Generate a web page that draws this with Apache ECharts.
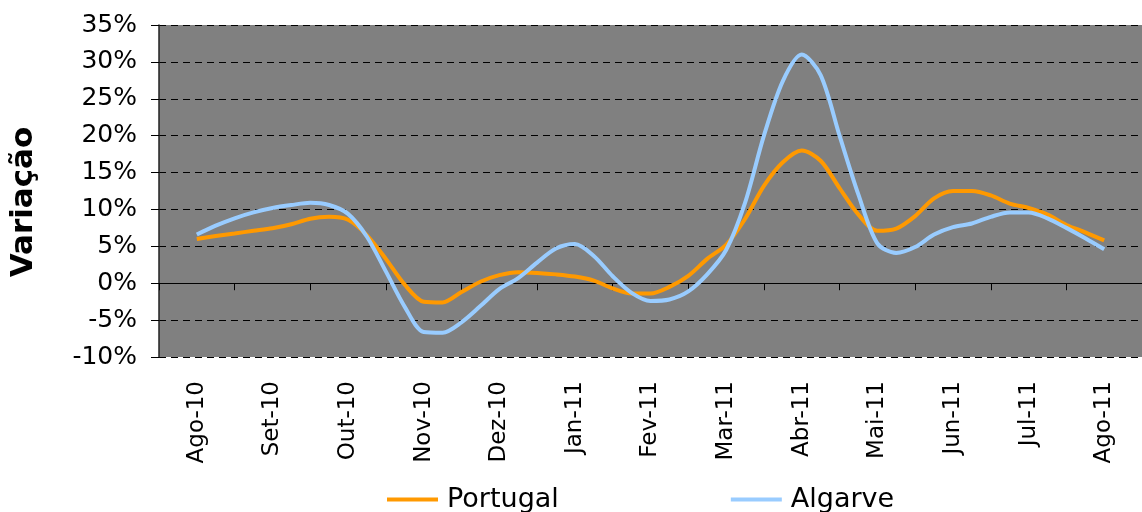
<!DOCTYPE html>
<html lang="pt">
<head>
  <meta charset="UTF-8">
  <title>Variação</title>
  <script src="https://cdn.jsdelivr.net/npm/echarts@6/dist/echarts.min.js"></script>
  <style>
    html, body { margin: 0; padding: 0; background: #fff; }
    #grafico { width: 1142px; height: 512px; }
  </style>
</head>
<body>
<div id="grafico"></div>
<script type="text/javascript">
  // meses do eixo (um por categoria)
  var meses = ['Ago-10', 'Set-10', 'Out-10', 'Nov-10', 'Dez-10', 'Jan-11', 'Fev-11',
    'Mar-11', 'Abr-11', 'Mai-11', 'Jun-11', 'Jul-11', 'Ago-11'];

  // valores semanais (4 por mês), em %
  var portugal = [6.0, 6.4, 6.75, 7.1, 7.45, 8.0, 8.75, 9.0, 8.6, 6.5, 3.3, -0.2,
    -2.5, -2.6, -1.2, 0.2, 1.1, 1.5, 1.4, 1.2, 0.9, 0.35, -0.7, -1.4,
    -1.4, -0.5, 1.0, 3.3, 5.2, 8.7, 13.2, 16.4, 18.0, 16.6, 12.9, 9.3,
    7.1, 7.4, 9.1, 11.5, 12.5, 12.5, 11.9, 10.8, 10.2, 9.3, 7.9, 6.9, 5.8];

  var algarve = [6.6, 7.8, 8.8, 9.6, 10.2, 10.6, 10.9, 10.6, 9.4, 6.3, 1.6, -3.2,
    -6.6, -6.7, -5.3, -3.1, -0.8, 0.7, 2.8, 4.7, 5.3, 3.7, 0.95, -1.3,
    -2.4, -2.2, -1.1, 1.2, 4.5, 10.9, 20.0, 27.4, 31.0, 28.2, 20.0, 12.0,
    5.4, 4.1, 4.9, 6.6, 7.6, 8.1, 9.0, 9.6, 9.6, 8.8, 7.5, 6.1, 4.6];

  var pontosPorMes = 4;

  function paraPares(lista) {
    var out = [];
    for (let i = 0; i < lista.length; i++) {
      out.push([i / pontosPorMes, lista[i]]);
    }
    return out;
  }

  var fonte = 'DejaVu Sans, Verdana, sans-serif';
  var myChart = echarts.init(document.getElementById('grafico'));

  var option = {
    animation: false,
    backgroundColor: '#ffffff',
    textStyle: { fontFamily: fonte },
    grid: {
      left: 159, top: 25, right: -13, bottom: 155,
      show: true, backgroundColor: '#808080', borderWidth: 0
    },
    graphic: [{
      type: 'text',
      x: 24, y: 202,
      rotation: Math.PI / 2,
      style: {
        text: 'Variação',
        font: 'bold 31px ' + fonte,
        fill: '#000',
        align: 'center',
        verticalAlign: 'middle'
      }
    }],
    legend: {
      left: 382, top: 481,
      icon: 'rect',
      itemWidth: 51, itemHeight: 4, itemGap: 172,
      textStyle: { fontSize: 27, color: '#000', fontFamily: fonte, padding: [0, 0, 0, 4] },
      data: ['Portugal', 'Algarve']
    },
    xAxis: [
      {
        // rótulos no fundo
        type: 'category',
        data: meses,
        position: 'bottom',
        axisLine: { show: false, onZero: false },
        axisTick: { show: false },
        axisLabel: { rotate: 90, fontSize: 23, color: '#000', margin: 24, fontFamily: fonte }
      },
      {
        // linha do zero com marcas
        type: 'category',
        data: meses,
        position: 'bottom',
        axisLine: { show: true, onZero: true, lineStyle: { color: '#000', width: 1 } },
        axisTick: { show: true, length: 7, lineStyle: { color: '#000' } },
        axisLabel: { show: false }
      },
      {
        // eixo dos dados semanais
        type: 'value',
        min: -0.5, max: 12.5,
        show: false
      }
    ],
    yAxis: {
      type: 'value',
      min: -10, max: 35, interval: 5,
      axisLine: { show: true, onZero: false, lineStyle: { color: '#222', width: 1.5 } },
      axisTick: { show: true, length: 8, lineStyle: { color: '#000' } },
      axisLabel: { formatter: '{value}%', fontSize: 25, color: '#000', margin: 22, fontFamily: fonte },
      splitLine: { show: true, lineStyle: { color: '#000', type: [7, 5], width: 1 } }
    },
    series: [
      {
        name: 'Portugal',
        type: 'line',
        xAxisIndex: 2,
        data: paraPares(portugal),
        symbol: 'none',
        smooth: 0.3,
        itemStyle: { color: '#FF9900' },
        lineStyle: { color: '#FF9900', width: 4 }
      },
      {
        name: 'Algarve',
        type: 'line',
        xAxisIndex: 2,
        data: paraPares(algarve),
        symbol: 'none',
        smooth: 0.3,
        itemStyle: { color: '#99CCFF' },
        lineStyle: { color: '#99CCFF', width: 4 }
      }
    ]
  };
  myChart.setOption(option);
</script>
</body>
</html>
